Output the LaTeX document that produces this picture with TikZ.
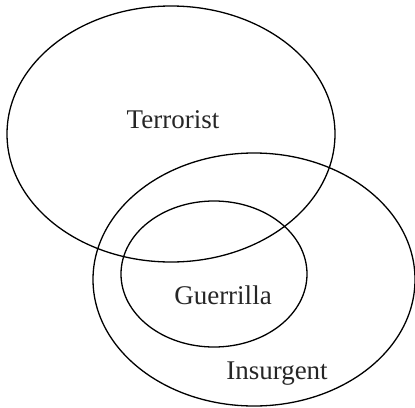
\documentclass[tikz,border=0pt]{standalone}
\usepackage{fontspec}
\setmainfont{Liberation Serif}
\begin{document}
\begin{tikzpicture}[x=1pt,y=-1pt,
  set/.style={draw=black,line width=1.3pt},
  lbl/.style={font=\fontsize{27}{31}\selectfont,text=black!85,inner sep=0pt}]
\useasboundingbox (0,0) rectangle (415,407);
\draw[set] (171,134) ellipse [x radius=164, y radius=128];
\draw[set] (254,279.5) ellipse [x radius=161, y radius=126.5];
\draw[set] (214,274) ellipse [x radius=93, y radius=73];
\node[lbl] (terrorist) at (173,120) {Terrorist};
\node[lbl] (guerrilla) at (223,295) {Guerrilla};
\node[lbl] (insurgent) at (277,374) {Insurgent};
\end{tikzpicture}
\end{document}
